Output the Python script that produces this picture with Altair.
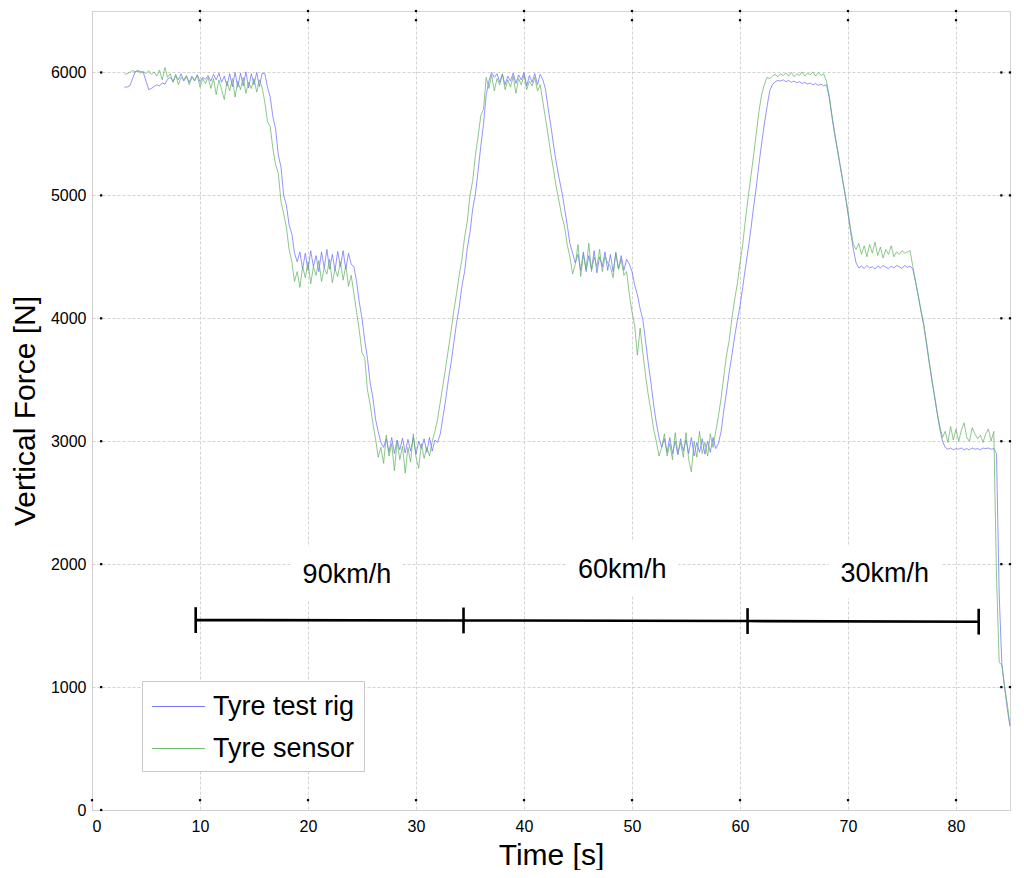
import altair as alt
import pandas as pd

# ---------------- data ----------------
T0 = 3.0      # first sample time [s]
DT = 0.25     # sample spacing [s]

# Tyre test rig (blue), one row = 2 s
rig = [
    5880, 5882, 5890, 5950, 6005, 6010, 6008, 6000,   # 3
    5930, 5860, 5870, 5885, 5900, 5890, 5915, 5905,   # 5
    5945, 5960, 5925, 5975, 5940, 5990, 5930, 5965,   # 7
    5920, 5970, 5935, 5980, 5925, 5960, 5945, 5975,   # 9
    5930, 5985, 5940, 5995, 5920, 5970, 5890, 5990,   # 11
    5885, 6000, 5880, 5995, 5890, 6005, 5875, 5990,   # 13
    5900, 6000, 5885, 5995, 5990, 5880, 5800, 5640,   # 15
    5540, 5330, 5230, 5000, 4920, 4760, 4690, 4530,   # 17
    4460, 4540, 4400, 4530, 4390, 4550, 4420, 4510,   # 19
    4380, 4540, 4410, 4560, 4400, 4520, 4390, 4545,   # 21
    4420, 4550, 4400, 4530, 4440, 4420, 4300, 4130,   # 23
    4000, 3820, 3680, 3480, 3360, 3180, 3080, 2990,   # 25
    2950, 3020, 2910, 3030, 2900, 3010, 2930, 3025,   # 27
    2905, 3015, 2920, 3030, 2895, 3000, 2940, 3020,   # 29
    2910, 3030, 2920, 3010, 2990, 3060, 3200, 3340,   # 31
    3500, 3640, 3800, 3960, 4090, 4260, 4380, 4570,   # 33
    4700, 4890, 5010, 5200, 5400, 5580, 5820, 5930,   # 35
    6000, 5960, 5990, 5920, 5985, 5900, 5970, 5930,   # 37
    5995, 5910, 5980, 5940, 6000, 5890, 5975, 5920,   # 39
    5990, 5900, 5985, 5940, 5860, 5700, 5560, 5400,   # 41
    5260, 5140, 5030, 4900, 4760, 4610, 4530, 4450,   # 43
    4520, 4390, 4540, 4380, 4510, 4400, 4550, 4370,   # 45
    4500, 4420, 4540, 4390, 4520, 4380, 4530, 4400,   # 47
    4510, 4390, 4480, 4440, 4380, 4270, 4190, 4080,   # 49
    3990, 3820, 3640, 3480, 3300, 3150, 3030, 2950,   # 51
    3020, 2910, 3030, 2900, 3000, 2890, 3020, 2920,   # 53
    3010, 2900, 3030, 2880, 2990, 2910, 3020, 2895,   # 55
    3000, 2910, 3030, 2940, 2980, 3080, 3250, 3400,   # 57
    3560, 3700, 3850, 3980, 4100, 4250, 4410, 4560,   # 59
    4720, 4900, 5060, 5250, 5420, 5580, 5720, 5850,   # 61
    5900, 5925, 5935, 5930, 5940, 5925, 5935, 5920,   # 63
    5930, 5915, 5925, 5910, 5920, 5905, 5915, 5900,   # 65
    5910, 5895, 5905, 5890, 5900, 5800, 5650, 5500,   # 67
    5380, 5250, 5120, 5000, 4850, 4700, 4560, 4450,   # 69
    4410, 4425, 4405, 4430, 4410, 4420, 4400, 4425,   # 71
    4410, 4430, 4415, 4405, 4425, 4410, 4430, 4420,   # 73
    4405, 4430, 4415, 4425, 4400, 4300, 4180, 4060,   # 75
    3950, 3800, 3650, 3500, 3370, 3230, 3100, 3000,   # 77
    2950, 2935, 2945, 2930, 2940, 2935, 2945, 2930,   # 79
    2940, 2930, 2945, 2935, 2940, 2930, 2945, 2940,   # 81
    2945, 2935, 2940, 2900, 1750, 1180, 1000, 820,    # 83
    680,                                              # 85
]

# Tyre sensor (green), one row = 2 s
sensor = [
    5985, 5990, 6000, 6015, 6005, 6020, 5995, 6010,   # 3
    5990, 6015, 5985, 6005, 5970, 6020, 5940, 6040,   # 5
    5960, 5990, 5920, 5985, 5900, 5960, 5940, 5975,   # 7
    5900, 5960, 5930, 5980, 5880, 5950, 5910, 5960,   # 9
    5870, 5950, 5820, 5940, 5860, 5780, 5930, 5850,   # 11
    5950, 5800, 5930, 5860, 5960, 5830, 5920, 5870,   # 13
    5950, 5840, 5940, 5880, 5760, 5600, 5560, 5380,   # 15
    5250, 5180, 4950, 4850, 4740, 4560, 4460, 4300,   # 17
    4380, 4250, 4420, 4330, 4460, 4280, 4420, 4350,   # 19
    4470, 4300, 4410, 4360, 4480, 4290, 4400, 4340,   # 21
    4460, 4310, 4430, 4260, 4350, 4200, 4050, 3900,   # 23
    3720, 3680, 3420, 3300, 3150, 3020, 2870, 2950,   # 25
    2820, 3050, 2880, 2980, 2760, 3000, 2850, 2960,   # 27
    2740, 2950, 2830, 3060, 2870, 2780, 2980, 2860,   # 29
    2950, 2880, 3000, 3080, 3180, 3320, 3460, 3600,   # 31
    3750, 3900, 4060, 4200, 4350, 4480, 4660, 4790,   # 33
    5000, 5120, 5330, 5480, 5650, 5700, 5960, 5870,   # 35
    5980, 5850, 5950, 5900, 5990, 5860, 5940, 5880,   # 37
    5970, 5830, 5950, 5900, 5980, 5860, 5930, 5890,   # 39
    5960, 5850, 5900, 5760, 5620, 5480, 5330, 5200,   # 41
    5060, 4950, 4830, 4750, 4600, 4500, 4360, 4440,   # 43
    4600, 4340, 4520, 4400, 4610, 4380, 4500, 4420,   # 45
    4560, 4380, 4500, 4450, 4420, 4330, 4540, 4400,   # 47
    4480, 4350, 4380, 4200, 4050, 3940, 3700, 3920,   # 49
    3720, 3540, 3380, 3250, 3100, 3000, 2880, 2950,   # 51
    3060, 2880, 2980, 2850, 3070, 2900, 2990, 2870,   # 53
    3070, 2850, 2750, 3000, 2870, 3080, 2900, 2990,   # 55
    2880, 3060, 2950, 3080, 3200, 3350, 3530, 3700,   # 57
    3820, 4000, 4150, 4280, 4450, 4600, 4800, 4980,   # 59
    5150, 5320, 5500, 5680, 5820, 5900, 5960, 5950,   # 61
    5970, 5985, 5965, 5990, 5975, 5995, 5970, 6000,   # 63
    5965, 5990, 5975, 6005, 5970, 5995, 5980, 6005,   # 65
    5970, 6000, 5975, 5990, 5930, 5820, 5660, 5520,   # 67
    5390, 5260, 5130, 5000, 4870, 4720, 4600, 4560,   # 69
    4610, 4520, 4590, 4500, 4600, 4530, 4620, 4510,   # 71
    4580, 4490, 4560, 4520, 4590, 4500, 4540, 4520,   # 73
    4550, 4530, 4540, 4550, 4420, 4300, 4190, 4070,   # 75
    3960, 3820, 3660, 3520, 3380, 3240, 3120, 3030,   # 77
    3080, 2990, 3120, 3010, 3100, 3000, 3090, 3150,   # 79
    3030, 3000, 3110, 3060, 3020, 3050, 2990, 3060,   # 81
    3100, 3000, 3080, 1900, 1200, 1180, 1000, 860,    # 83
    690,                                              # 85
]

series_names = ["Tyre test rig", "Tyre sensor"]
series_colors = ["#6a6aff", "#5fb35f"]

x_ticks = [0, 10, 20, 30, 40, 50, 60, 70, 80]
y_ticks = [0, 1000, 2000, 3000, 4000, 5000, 6000]

speed_labels = ["90km/h", "60km/h", "30km/h"]
label_t = [23.6, 49.1, 73.4]
label_f = [1910, 1950, 1920]

bracket_t = [9.6, 34.4, 60.7, 82.1]
bracket_f = [1545, 1542, 1537, 1532]

# ---------------- tables ----------------
n = min(len(rig), len(sensor))
time = [T0 + DT * i for i in range(n)]
lines_df = pd.DataFrame({
    "t": time + time,
    "f": rig[:n] + sensor[:n],
    "series": [series_names[0]] * n + [series_names[1]] * n,
})
labels_df = pd.DataFrame({"t": label_t, "f": label_f, "txt": speed_labels})
bracket_df = pd.DataFrame({"t": bracket_t, "f": bracket_f})

# small inward tick dots (MATLAB style) at the axis tick values
X_MAX, Y_MAX = 85, 6500
dots = (
    [{"t": v, "f": Y_MAX} for v in x_ticks[1:]]
    + [{"t": v, "f": Y_MAX - 75} for v in x_ticks[1:]]
    + [{"t": v, "f": 80} for v in x_ticks]
    + [{"t": 0.85, "f": v} for v in y_ticks]
    + [{"t": X_MAX, "f": v} for v in y_ticks[1:]]
    + [{"t": X_MAX - 0.8, "f": v} for v in y_ticks[1:]]
)
dots_df = pd.DataFrame(dots)

FONT = "Liberation Sans"

X = alt.X("t:Q", scale=alt.Scale(domain=[0, X_MAX], nice=False, zero=False),
          axis=alt.Axis(title="Time [s]", values=x_ticks, format="d"))
Y = alt.Y("f:Q", scale=alt.Scale(domain=[0, Y_MAX], nice=False),
          axis=alt.Axis(title="Vertical Force [N]", values=y_ticks, format="d"))

boxes = alt.Chart(labels_df).mark_rect(color="white").encode(
    x=alt.X("x1:Q", scale=alt.Scale(domain=[0, X_MAX], nice=False, zero=False)),
    x2="x2:Q",
    y=alt.Y("y1:Q"),
    y2="y2:Q",
).transform_calculate(
    x1="datum.t - 5.2", x2="datum.t + 5.2", y1="datum.f - 200", y2="datum.f + 230"
)

lines = alt.Chart(lines_df).mark_line(strokeWidth=0.8, opacity=0.9).encode(
    x=X, y=Y,
    color=alt.Color("series:N",
                    scale=alt.Scale(domain=series_names, range=series_colors),
                    sort=series_names,
                    legend=alt.Legend(title=None)),
    order="t:Q",
)

bracket = alt.Chart(bracket_df).mark_line(color="black", strokeWidth=2.6).encode(x=X, y=Y)
bracket_ticks = alt.Chart(bracket_df).mark_rule(color="black", strokeWidth=2.6).encode(
    x=X, y=alt.Y("lo:Q"), y2="hi:Q"
).transform_calculate(lo="datum.f - 105", hi="datum.f + 105")

texts = alt.Chart(labels_df).mark_text(
    font=FONT, fontSize=27, color="black", baseline="middle", align="center"
).encode(x=X, y=Y, text="txt:N")

tick_dots = alt.Chart(dots_df).mark_square(size=5, color="black", opacity=1).encode(x=X, y=Y)

chart = alt.layer(boxes, lines, bracket, bracket_ticks, texts, tick_dots).properties(
    width=918, height=799,
    autosize="none",
    padding={"left": 84, "top": 3, "right": 6, "bottom": 60},
).configure_view(
    stroke="#d4d4d4", strokeWidth=1
).configure_axis(
    grid=True, gridColor="#d2d2d2", gridDash=[3, 2], gridWidth=1,
    domainColor="#d0d0d0", ticks=False,
    labelFont=FONT, labelFontSize=16, labelColor="black",
    titleFont=FONT, titleFontSize=30, titleFontWeight="normal", titleColor="black",
).configure_axisX(
    labelPadding=8, titlePadding=6,
).configure_axisY(
    labelPadding=6, titlePadding=10,
).configure_legend(
    orient="none", legendX=50, legendY=670,
    fillColor="white", strokeColor="#c8c8c8", padding=9,
    labelFont=FONT, labelFontSize=27, labelColor="black", labelLimit=400,
    symbolType="M-1.65,0H1.65", symbolSize=1024, symbolStrokeWidth=1,
    symbolFillColor="transparent",
    symbolOffset=11, rowPadding=12, labelOffset=18,
)

chart.save("out.html", embed_options={"renderer": "svg", "actions": False})
